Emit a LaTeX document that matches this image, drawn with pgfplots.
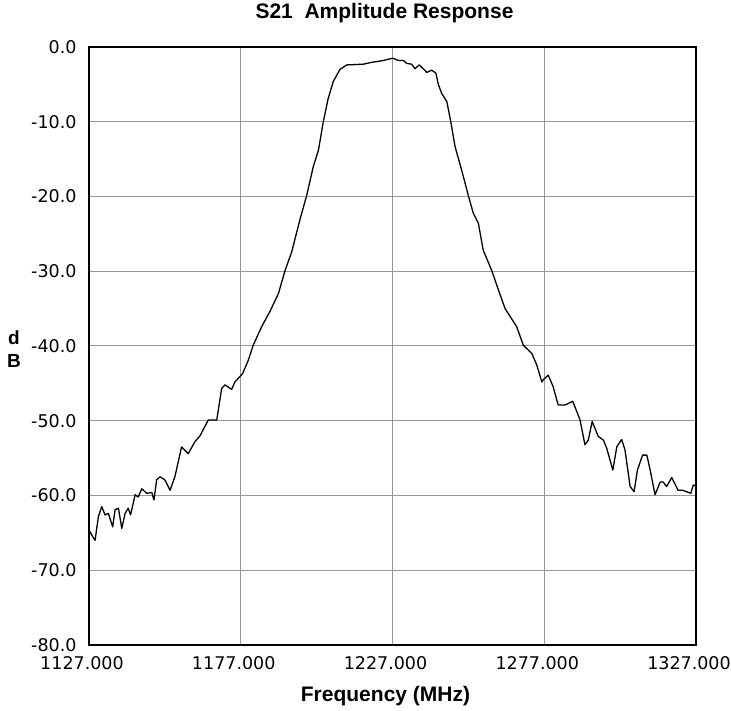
\documentclass[border=0pt]{standalone}
\usepackage{pgfplots}
\pgfplotsset{compat=1.18}
\usepackage{fontspec}
\setmainfont{Liberation Sans}
\newfontfamily\tickfont{DejaVu Sans}
\definecolor{gridgray}{RGB}{150,150,150}
\begin{document}
\begin{tikzpicture}
\begin{axis}[
  at={(0,0)}, anchor=south west,
  scale only axis, width=607pt, height=598pt,
  xmin=1127, xmax=1327, ymin=-80, ymax=0,
  xtick={1127,1177,1227,1277,1327},
  ytick={-80,-70,-60,-50,-40,-30,-20,-10,0},
  grid=major,
  major grid style={draw=gridgray, line width=1pt},
  axis line style={black, line width=1.3pt},
  major tick length=0pt,
  tick style={draw=none},
  xticklabel={\pgfmathprintnumber[fixed,fixed zerofill,precision=3,1000 sep={},assume math mode=true]{\tick}},
  yticklabel={\pgfmathprintnumber[fixed,fixed zerofill,precision=1,assume math mode=true]{\tick}},
  xticklabel style={font=\tickfont\fontsize{17.5}{20}\selectfont, yshift=-8pt, xshift=-7pt},
  yticklabel style={font=\tickfont\fontsize{17.5}{20}\selectfont, xshift=-9pt},
  title={S21\ \ Amplitude Response},
  title style={at={(axis description cs:0.5,1)}, anchor=base, yshift=22pt, xshift=-8pt,
    font=\bfseries\fontsize{21}{24}\selectfont},
  xlabel={Frequency (MHz)},
  xlabel style={at={(axis description cs:0.5,0)}, anchor=base, yshift=-57pt, xshift=-7pt,
    font=\bfseries\fontsize{21}{24}\selectfont},
  ylabel={d\\B},
  ylabel style={rotate=-90, at={(axis description cs:0,0.5)}, anchor=center, align=center,
    xshift=-75pt, yshift=-3.5pt, font=\bfseries\fontsize{19}{23}\selectfont},
]
\addplot[black, line width=1.3pt, line join=round] coordinates {
(1127.0,-64.6)
(1128.2,-65.5)
(1129.0,-66.0)
(1130.1,-62.8)
(1131.2,-61.5)
(1132.3,-62.6)
(1133.4,-62.4)
(1134.8,-64.2)
(1135.6,-61.9)
(1136.7,-61.7)
(1137.8,-64.4)
(1138.9,-62.4)
(1139.9,-61.7)
(1140.7,-62.6)
(1142.2,-59.9)
(1143.2,-60.2)
(1144.4,-59.1)
(1146.0,-59.7)
(1147.7,-59.6)
(1148.4,-60.6)
(1149.3,-57.9)
(1150.4,-57.5)
(1152.0,-57.9)
(1153.7,-59.3)
(1155.3,-57.5)
(1157.5,-53.5)
(1159.7,-54.4)
(1161.9,-52.8)
(1163.6,-52.0)
(1166.3,-49.9)
(1169.1,-49.9)
(1170.7,-45.7)
(1171.8,-45.2)
(1174.0,-45.8)
(1175.1,-44.8)
(1177.6,-43.7)
(1179.5,-41.9)
(1181.1,-39.9)
(1183.9,-37.4)
(1186.6,-35.4)
(1189.4,-33.0)
(1191.6,-29.9)
(1193.8,-27.4)
(1196.5,-23.1)
(1198.7,-19.9)
(1200.9,-16.0)
(1202.6,-13.8)
(1204.2,-10.0)
(1205.8,-6.9)
(1207.5,-4.6)
(1209.7,-3.0)
(1211.9,-2.4)
(1217.4,-2.3)
(1219.6,-2.1)
(1224.0,-1.8)
(1227.1,-1.5)
(1228.9,-1.8)
(1230.6,-1.8)
(1231.7,-2.2)
(1233.3,-2.3)
(1234.4,-2.9)
(1235.8,-2.4)
(1237.1,-2.9)
(1238.3,-3.4)
(1239.9,-3.1)
(1241.3,-3.5)
(1242.1,-5.0)
(1243.2,-6.2)
(1244.9,-7.3)
(1246.2,-10.0)
(1247.6,-13.3)
(1249.8,-16.5)
(1252.0,-19.9)
(1253.6,-22.2)
(1255.3,-23.6)
(1256.9,-27.2)
(1259.7,-29.9)
(1261.9,-32.5)
(1264.1,-35.0)
(1267.9,-37.4)
(1270.1,-39.9)
(1272.9,-41.0)
(1274.5,-42.5)
(1276.2,-44.8)
(1276.7,-44.5)
(1277.8,-44.1)
(1278.3,-43.9)
(1279.9,-45.4)
(1281.6,-47.9)
(1283.8,-47.9)
(1286.4,-47.4)
(1288.8,-49.9)
(1290.4,-53.2)
(1291.5,-52.6)
(1292.8,-50.1)
(1294.8,-52.1)
(1296.5,-52.6)
(1297.6,-53.7)
(1299.6,-56.6)
(1300.9,-53.5)
(1302.5,-52.5)
(1303.6,-53.9)
(1305.3,-58.8)
(1306.6,-59.5)
(1307.7,-56.6)
(1309.4,-54.6)
(1310.8,-54.6)
(1311.9,-56.6)
(1313.5,-59.9)
(1315.2,-58.2)
(1316.2,-58.2)
(1317.3,-58.8)
(1319.0,-57.6)
(1320.0,-58.4)
(1321.1,-59.3)
(1322.6,-59.3)
(1323.9,-59.5)
(1325.3,-59.7)
(1326.1,-58.6)
(1327.0,-58.7)
};
\end{axis}
\pgfresetboundingbox
\path[use as bounding box] (-89pt,-66pt) rectangle (642pt,645pt);
\end{tikzpicture}
\end{document}
